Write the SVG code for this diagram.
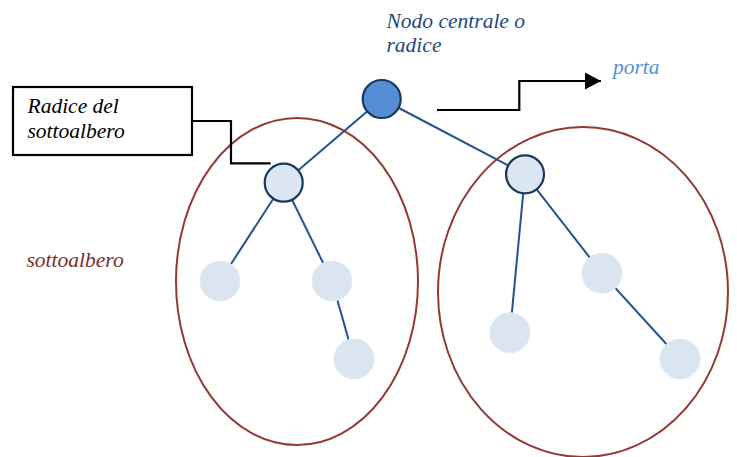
<svg xmlns="http://www.w3.org/2000/svg" width="737" height="457" viewBox="0 0 737 457">
  <style>
    .lbl { font-family: "Liberation Serif", "Times New Roman", "DejaVu Serif", serif; font-style: italic; font-size: 21.5px; }
    .edge { stroke: #23528F; stroke-width: 2; fill: none; }
    .wire { stroke: #000; stroke-width: 2.2; fill: none; }
    .subtree { fill: none; stroke: #953735; stroke-width: 2; }
    .root { fill: #558ED5; stroke: #17375E; stroke-width: 2.2; }
    .inner { fill: #DCE6F2; stroke: #17375E; stroke-width: 2.2; }
    .leaf { fill: #DBE5F1; stroke: #DAEEF3; stroke-width: 1; }
  </style>
  <defs>
    <marker id="arrow" viewBox="0 0 16 17" refX="16" refY="8.5" markerWidth="16" markerHeight="17" markerUnits="userSpaceOnUse" orient="auto">
      <polygon points="0,0 16,8.5 0,17" fill="#000"/>
    </marker>
  </defs>

  <rect width="737" height="457" fill="#fff"/>

  <!-- subtree outlines -->
  <g id="subtrees">
    <ellipse class="subtree" cx="297" cy="281.5" rx="121" ry="163.5"/>
    <ellipse class="subtree" cx="583" cy="292" rx="145" ry="165"/>
  </g>

  <!-- connectors -->
  <g id="connectors">
    <line class="edge" x1="381.7" y1="99" x2="283.7" y2="182.7"/>
    <line class="edge" x1="381.7" y1="99" x2="525" y2="174.3"/>
    <line class="edge" x1="283.7" y1="182.7" x2="220" y2="281"/>
    <line class="edge" x1="283.7" y1="182.7" x2="332" y2="281"/>
    <line class="edge" x1="332" y1="281" x2="354" y2="359"/>
    <line class="edge" x1="525" y1="174.3" x2="510" y2="332.7"/>
    <line class="edge" x1="525" y1="174.3" x2="602" y2="273.3"/>
    <line class="edge" x1="602" y1="273.3" x2="680" y2="359"/>
    <polyline class="wire" points="192,121 231,121 231,163.3 270.7,163.3"/>
    <polyline class="wire" points="437,110 519.3,110 519.3,81 601,81" marker-end="url(#arrow)"/>
  </g>

  <!-- nodes -->
  <g id="root"><circle class="root" cx="381.7" cy="99" r="19"/></g>
  <g id="left-subroot"><circle class="inner" cx="283.7" cy="182.7" r="19"/></g>
  <g id="right-subroot"><circle class="inner" cx="525" cy="174.3" r="19"/></g>
  <g id="leaf-l1"><circle class="leaf" cx="220" cy="281" r="20"/></g>
  <g id="leaf-l2"><circle class="leaf" cx="332" cy="281" r="20"/></g>
  <g id="leaf-l3"><circle class="leaf" cx="354" cy="359" r="20"/></g>
  <g id="leaf-r1"><circle class="leaf" cx="510" cy="332.7" r="20"/></g>
  <g id="leaf-r2"><circle class="leaf" cx="602" cy="273.3" r="20"/></g>
  <g id="leaf-r3"><circle class="leaf" cx="680" cy="359" r="20"/></g>

  <!-- callout box -->
  <g id="callout">
    <rect x="13" y="87" width="179" height="68" fill="#fff" stroke="#000" stroke-width="2.2"/>
    <text class="lbl" x="27.5" y="113" fill="#000">Radice del</text>
    <text class="lbl" x="27.5" y="138" fill="#000">sottoalbero</text>
  </g>

  <!-- labels -->
  <g id="labels">
    <text class="lbl" x="386.5" y="28" fill="#1F497D">Nodo centrale o</text>
    <text class="lbl" x="386.5" y="52" fill="#1F497D">radice</text>
    <text class="lbl" x="613" y="74" fill="#558ED5">porta</text>
    <text class="lbl" x="26.5" y="267" fill="#7A2E2C">sottoalbero</text>
  </g>
</svg>
